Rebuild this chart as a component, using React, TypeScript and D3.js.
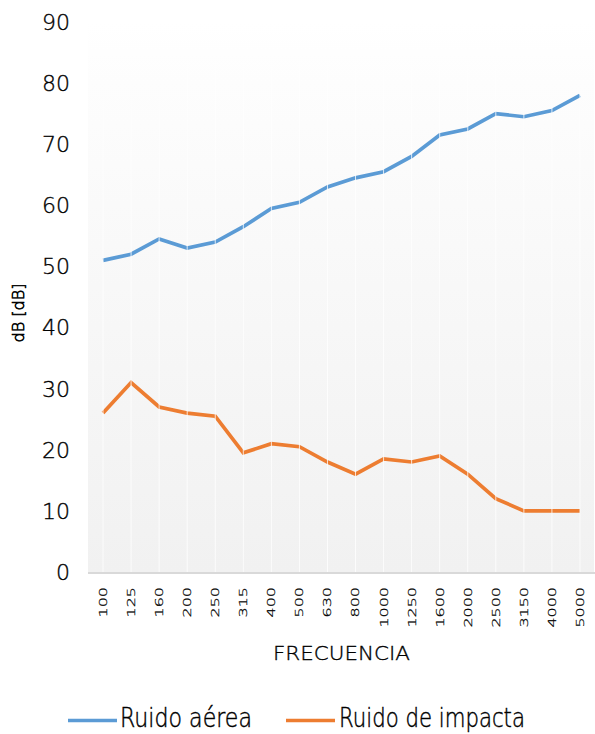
import React from "react";
import * as d3 from "d3";

const categories = ["100","125","160","200","250","315","400","500","630","800","1000","1250","1600","2000","2500","3150","4000","5000"];
const aereaValues = [51.0,52.0,54.5,53.0,54.0,56.5,59.5,60.5,63.0,64.5,65.5,68.0,71.5,72.5,75.0,74.5,75.5,78.0];
const impactoValues = [26.0,31.0,27.0,26.0,25.5,19.5,21.0,20.5,18.0,16.0,18.5,18.0,19.0,16.0,12.0,10.0,10.0,10.0];
const yTicks = [0,10,20,30,40,50,60,70,80,90];
const seriesNames = ["Ruido aérea", "Ruido de impacta"];
const seriesColors = ["#5b9bd5", "#ed7d31"];

const W = 595, H = 734;
const FONT = "'DejaVu Sans', sans-serif";
const FW = 200;

export default function App() {
  const x = d3.scaleBand<string>().domain(categories).range([89, 594]).padding(0);
  const y = d3.scaleLinear().domain([0, 90]).range([572, 22]);
  const cx = (c: string) => (x(c) as number) + x.bandwidth() / 2;
  const line = d3.line<number>().x((_, i) => cx(categories[i])).y(d => y(d));
  const series = [aereaValues, impactoValues];
  const txt = { fill: "#000", stroke: "#000", strokeWidth: 0.35 };

  return (
    <svg width={W} height={H} style={{ position: "absolute", left: 0, top: 0, background: "#fff" }} fontFamily={FONT} fontWeight={FW}>
      <defs>
        <linearGradient id="bg" x1="0" y1="0" x2="0" y2="1">
          <stop offset="0" stopColor="#ffffff" />
          <stop offset="0.11" stopColor="#fdfdfd" />
          <stop offset="1" stopColor="#f1f1f1" />
        </linearGradient>
      </defs>
      <rect x={88} y={y(90)} width={594 - 88} height={y(0) - y(90)} fill="url(#bg)" />
      {series.map((s, k) => (
        <path key={k} d={line(s) || ""} fill="none" stroke={seriesColors[k]} strokeWidth={3.7} strokeLinejoin="miter" />
      ))}
      {categories.map(c => (
        <line key={c} x1={cx(c)} x2={cx(c)} y1={y(90)} y2={y(0)} stroke="#ffffff" strokeWidth={1} opacity={0.8} />
      ))}
      <line x1={88} x2={595} y1={y(0) + 1} y2={y(0) + 1} stroke="#d9d9d9" strokeWidth={2} />
      {yTicks.map(t => (
        <text key={t} x={70} y={y(t)} dy="0.36em" textAnchor="end" fontSize={22} {...txt}>{t}</text>
      ))}
      {categories.map(c => (
        <text key={c} transform={`translate(${cx(c)},587) rotate(-90) scale(1.45,1)`} textAnchor="end" dy="0.36em" fontSize={11} {...txt} strokeWidth={0.25}>{c}</text>
      ))}
      <text x={273} y={660} textLength={137} lengthAdjust="spacingAndGlyphs" fontSize={20} {...txt}>FRECUENCIA</text>
      <text transform={`translate(18,313) rotate(-90)`} textAnchor="middle" dy="0.36em" fontSize={16} {...txt} strokeWidth={0.6}>dB [dB]</text>
      <g>
        <line x1={68} x2={117} y1={720.5} y2={720.5} stroke={seriesColors[0]} strokeWidth={3.5} />
        <text transform="translate(120,727) scale(1,1.3)" textLength={132} lengthAdjust="spacingAndGlyphs" fontSize={20} {...txt}>{seriesNames[0]}</text>
        <line x1={286} x2={335} y1={720.5} y2={720.5} stroke={seriesColors[1]} strokeWidth={3.5} />
        <text transform="translate(339,727) scale(1,1.3)" textLength={186} lengthAdjust="spacingAndGlyphs" fontSize={20} {...txt}>{seriesNames[1]}</text>
      </g>
    </svg>
  );
}
